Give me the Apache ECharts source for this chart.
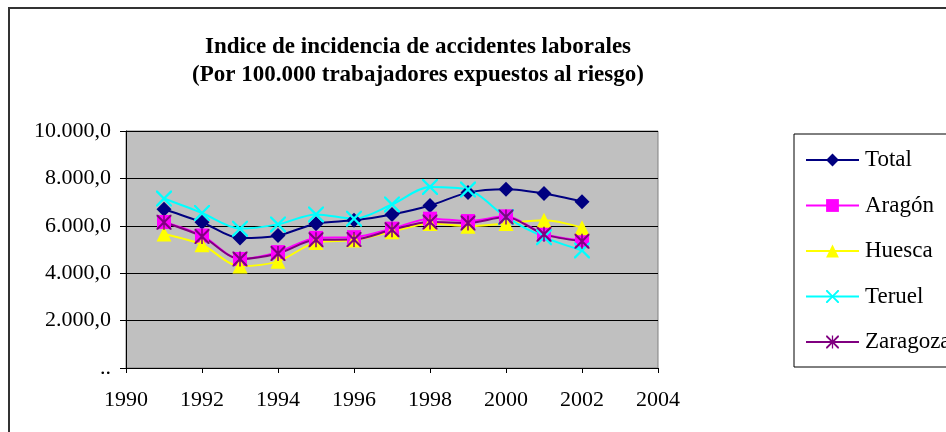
<!DOCTYPE html>
<html>
<head>
<meta charset="utf-8">
<script src="https://cdn.jsdelivr.net/npm/echarts@6/dist/echarts.min.js"></script>
<style>
  html, body { margin: 0; padding: 0; background: #fff; }
  #chart { width: 946px; height: 432px; }
</style>
</head>
<body>
<div id="chart"></div>
<script>
// years and series values
const years = [1991, 1992, 1993, 1994, 1995, 1996, 1997, 1998, 1999, 2000, 2001, 2002];
const total = [6700, 6150, 5480, 5590, 6090, 6230, 6480, 6860, 7400, 7540, 7360, 7020];
const aragon = [6160, 5590, 4600, 4890, 5490, 5520, 5880, 6300, 6200, 6400, 5660, 5380];
const huesca = [5650, 5200, 4300, 4500, 5300, 5400, 5750, 6100, 5980, 6100, 6230, 5920];
const teruel = [7150, 6540, 5880, 6060, 6480, 6300, 6900, 7640, 7530, 6370, 5520, 4960];
const zaragoza = [6150, 5550, 4600, 4830, 5410, 5420, 5830, 6160, 6120, 6370, 5640, 5350];

const seriesNames = ['Total', 'Aragón', 'Huesca', 'Teruel', 'Zaragoza'];
const yTickLabels = ['..', '2.000,0', '4.000,0', '6.000,0', '8.000,0', '10.000,0'];
const xTicks = [1990, 1992, 1994, 1996, 1998, 2000, 2002, 2004];

const serif = '"Liberation Serif", "DejaVu Serif", serif';

// marker shapes for the X and asterisk
const crossPath = 'path://M0,0 L2,0 L10,8 L18,0 L20,0 L20,2 L12,10 L20,18 L20,20 L18,20 L10,12 L2,20 L0,20 L0,18 L8,10 L0,2 Z';
const starPath = 'path://M0,0 L2,0 L10,8 L18,0 L20,0 L20,2 L12,10 L20,18 L20,20 L18,20 L10,12 L2,20 L0,20 L0,18 L8,10 L0,2 Z M9,0 L11,0 L11,20 L9,20 Z';

function pairs(vals) {
  return years.map((y, i) => [y, vals[i]]);
}

function makeSeries(name, vals, color, symbol, size) {
  return {
    name: name,
    type: 'line',
    smooth: 0.3,
    data: pairs(vals),
    symbol: symbol,
    symbolSize: size,
    lineStyle: { color: color, width: 2 },
    itemStyle: { color: color, borderWidth: 0 }
  };
}

let oChart = echarts.init(document.getElementById('chart'));
let option = {
  animation: false,
  title: {
    text: 'Indice de incidencia de accidentes laborales\n(Por 100.000 trabajadores expuestos al riesgo)',
    left: 418,
    top: 33,
    padding: 0,
    textAlign: 'center',
    textStyle: {
      fontFamily: serif,
      fontSize: 23,
      fontWeight: 'bold',
      color: '#000',
      lineHeight: 28
    }
  },
  graphic: [
    {
      type: 'rect',
      shape: { x: 9, y: 8, width: 960, height: 460 },
      style: { fill: 'none', stroke: '#333', lineWidth: 2 },
      silent: true
    },
    {
      type: 'rect',
      shape: { x: 794, y: 134, width: 200, height: 233 },
      style: { fill: '#fff', stroke: '#000', lineWidth: 1 },
      silent: true,
      z: -1
    }
  ],
  legend: {
    orient: 'vertical',
    left: 805,
    top: 148.5,
    padding: 0,
    itemWidth: 53,
    itemHeight: 16,
    itemGap: 22.5,
    data: seriesNames,
    textStyle: { fontFamily: serif, fontSize: 23, color: '#000', padding: [0, 0, 0, 1] }
  },
  grid: {
    left: 126,
    right: 288,
    top: 131,
    bottom: 64,
    show: true,
    backgroundColor: '#c0c0c0',
    borderColor: '#808080',
    borderWidth: 1
  },
  xAxis: {
    type: 'value',
    min: 1990,
    max: 2004,
    interval: 2,
    axisLine: { show: true, onZero: false, lineStyle: { color: '#000', width: 1 } },
    axisTick: { show: true, inside: false, length: 5, lineStyle: { color: '#000' } },
    axisLabel: {
      fontFamily: serif,
      fontSize: 22,
      color: '#000',
      margin: 21,
      formatter: v => xTicks.indexOf(v) >= 0 ? String(v) : ''
    },
    splitLine: { show: false }
  },
  yAxis: {
    type: 'value',
    min: 0,
    max: 10000,
    interval: 2000,
    axisLine: { show: true, lineStyle: { color: '#000', width: 1 } },
    axisTick: { show: true, inside: false, length: 6, lineStyle: { color: '#000' } },
    axisLabel: {
      fontFamily: serif,
      fontSize: 22,
      color: '#000',
      margin: 15,
      formatter: v => yTickLabels[Math.round(v / 2000)]
    },
    splitLine: { show: true, lineStyle: { color: '#000', width: 1 } }
  },
  series: [
    makeSeries('Total', total, '#000080', 'diamond', 15),
    makeSeries('Aragón', aragon, '#ff00ff', 'rect', 14),
    makeSeries('Huesca', huesca, '#ffff00', 'triangle', 15),
    makeSeries('Teruel', teruel, '#00ffff', crossPath, 16),
    makeSeries('Zaragoza', zaragoza, '#800080', starPath, 15)
  ]
};
oChart.setOption(option);
</script>
</body>
</html>
